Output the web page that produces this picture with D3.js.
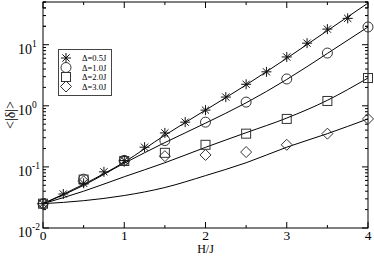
<!DOCTYPE html>
<html>
<head>
<meta charset="utf-8">
<script src="https://cdn.jsdelivr.net/npm/d3@7"></script>
<style>
  body { margin: 0; background: #fff; }
  svg { display: block; font-family: "Liberation Serif", "DejaVu Serif", serif; }
</style>
</head>
<body>
<div id="chart"></div>
<script>
// data
var hStar = [0, 0.25, 0.5, 0.75, 1, 1.25, 1.5, 1.75, 2, 2.25, 2.5, 2.75, 3, 3.25, 3.5, 3.75];
var dStar = [0.025, 0.036, 0.054, 0.083, 0.127, 0.21, 0.36, 0.54, 0.85, 1.39, 2.25, 3.6, 6.3, 10.6, 18, 27];

var hHalf = [0, 0.5, 1, 1.5, 2, 2.5, 3, 3.5, 4];
var dCircle  = [0.025, 0.063, 0.128, 0.27, 0.54, 1.15, 2.75, 7.3, 19.5];
var dSquare  = [0.025, 0.062, 0.125, 0.17, 0.23, 0.35, 0.61, 1.2, 2.85];
var dDiamond = [0.025, 0.058, 0.125, 0.15, 0.157, 0.175, 0.23, 0.35, 0.61];

// theory curves
var hFit = [0, 0.5, 1, 1.5, 2, 2.5, 3, 3.5, 4];
var fit05 = [0.025, 0.052, 0.12, 0.33, 0.85, 2.2, 6.0, 17, 48];
var fit10 = [0.025, 0.05, 0.115, 0.25, 0.52, 1.12, 2.7, 7.2, 19.5];
var fit20 = [0.025, 0.040, 0.069, 0.117, 0.209, 0.363, 0.63, 1.23, 2.85];
var fit30 = [0.025, 0.028, 0.034, 0.046, 0.072, 0.117, 0.21, 0.35, 0.61];

var legendLabels = ["\u0394=0.5J", "\u0394=1.0J", "\u0394=2.0J", "\u0394=3.0J"];
var xTicks = [0, 1, 2, 3, 4];
var yExps = [-2, -1, 0, 1];

var width = 374, height = 256;
var margin = {top: 2, right: 6, bottom: 28, left: 43};
var iw = width - margin.left - margin.right;
var ih = height - margin.top - margin.bottom;

var svg = d3.select('#chart').append('svg')
    .attr('width', width)
    .attr('height', height);

var g = svg.append('g')
    .attr('transform', 'translate(' + margin.left + ',' + margin.top + ')');

var x = d3.scaleLinear().domain([0, 4]).range([0, iw]);
var y = d3.scaleLog().domain([0.01, 50]).range([ih, 0]);

// ticks, xmgrace style: inside on all four sides
var minorX = d3.range(0, 4.01, 0.5).filter(function(v){ return v % 1 !== 0; });
var minorY = [];
yExps.concat([1]).forEach(function(e){
  for (var k = 2; k <= 9; k++) {
    var v = k * Math.pow(10, e);
    if (v <= 50) minorY.push(v);
  }
});

var tk = g.append('g').attr('stroke', '#000').attr('stroke-width', 1);
xTicks.forEach(function(v){
  tk.append('line').attr('x1', x(v)).attr('x2', x(v)).attr('y1', ih).attr('y2', ih - 6);
  tk.append('line').attr('x1', x(v)).attr('x2', x(v)).attr('y1', 0).attr('y2', 6);
});
minorX.forEach(function(v){
  tk.append('line').attr('x1', x(v)).attr('x2', x(v)).attr('y1', ih).attr('y2', ih - 3);
  tk.append('line').attr('x1', x(v)).attr('x2', x(v)).attr('y1', 0).attr('y2', 3);
});
yExps.forEach(function(e){
  var v = Math.pow(10, e);
  tk.append('line').attr('x1', 0).attr('x2', 6).attr('y1', y(v)).attr('y2', y(v));
  tk.append('line').attr('x1', iw).attr('x2', iw - 6).attr('y1', y(v)).attr('y2', y(v));
});
minorY.forEach(function(v){
  tk.append('line').attr('x1', 0).attr('x2', 3).attr('y1', y(v)).attr('y2', y(v));
  tk.append('line').attr('x1', iw).attr('x2', iw - 3).attr('y1', y(v)).attr('y2', y(v));
});

// frame
g.append('rect')
  .attr('width', iw).attr('height', ih)
  .attr('fill', 'none').attr('stroke', '#000').attr('stroke-width', 1);

// tick labels
g.selectAll('.xl').data(xTicks).join('text')
  .attr('x', function(d){ return x(d); })
  .attr('y', ih + 11.5)
  .attr('text-anchor', 'middle')
  .style('font-size', '13.5px')
  .text(function(d){ return d; });

var yl = g.selectAll('.yl').data(yExps).join('text')
  .attr('x', -25)
  .attr('y', function(d){ return y(Math.pow(10, d)) + 9; })
  .style('font-size', '14px');
yl.append('tspan').text('10');
yl.append('tspan').attr('dy', -7).style('font-size', '9.5px').text(function(d){ return d; });

// axis titles
svg.append('text')
  .attr('x', margin.left + iw / 2).attr('y', 253.3)
  .attr('text-anchor', 'middle')
  .style('font-size', '12px')
  .text('H/J');

svg.append('text')
  .attr('transform', 'translate(15,' + (margin.top + ih / 2) + ') rotate(-90)')
  .attr('text-anchor', 'middle')
  .style('font-size', '14px')
  .text('<|\u03b4|>');

// curves
var line = d3.line()
  .x(function(d){ return x(d[0]); })
  .y(function(d){ return y(d[1]); })
  .curve(d3.curveMonotoneX);

[fit05, fit10, fit20, fit30].forEach(function(vals){
  g.append('path')
    .datum(hFit.map(function(h, i){ return [h, vals[i]]; }))
    .attr('d', line)
    .attr('fill', 'none')
    .attr('stroke', '#000')
    .attr('stroke-width', 1);
});

// symbols
var symCol = '#333';
function star(sel, cx, cy) {
  var r = 5, q = r * 0.72;
  sel.append('path')
    .attr('d', 'M' + (cx - r) + ',' + cy + 'H' + (cx + r) +
               'M' + cx + ',' + (cy - r) + 'V' + (cy + r) +
               'M' + (cx - q) + ',' + (cy - q) + 'L' + (cx + q) + ',' + (cy + q) +
               'M' + (cx - q) + ',' + (cy + q) + 'L' + (cx + q) + ',' + (cy - q))
    .attr('stroke', '#111').attr('stroke-width', 1).attr('fill', 'none');
}
function circle(sel, cx, cy) {
  sel.append('circle').attr('cx', cx).attr('cy', cy).attr('r', 5)
    .attr('fill', 'none').attr('stroke', symCol);
}
function square(sel, cx, cy) {
  sel.append('rect').attr('x', cx - 4.5).attr('y', cy - 4.5).attr('width', 9).attr('height', 9)
    .attr('fill', 'none').attr('stroke', symCol);
}
function diamond(sel, cx, cy) {
  var r = 5.5;
  sel.append('path')
    .attr('d', 'M' + cx + ',' + (cy - r) + 'L' + (cx + r) + ',' + cy + 'L' + cx + ',' + (cy + r) + 'L' + (cx - r) + ',' + cy + 'Z')
    .attr('fill', 'none').attr('stroke', symCol);
}

var pts = g.append('g');
hHalf.forEach(function(h, i){ diamond(pts, x(h), y(dDiamond[i])); });
hHalf.forEach(function(h, i){ square(pts, x(h), y(dSquare[i])); });
hHalf.forEach(function(h, i){ circle(pts, x(h), y(dCircle[i])); });
hStar.forEach(function(h, i){ star(pts, x(h), y(dStar[i])); });

// legend
var lg = svg.append('g');
lg.append('rect')
  .attr('x', 58.5).attr('y', 49.5).attr('width', 53).attr('height', 46)
  .attr('fill', '#fff').attr('stroke', '#444').attr('stroke-width', 1);
var drawers = [star, circle, square, diamond];
legendLabels.forEach(function(t, i){
  var cy = 58 + i * 9.5;
  drawers[i](lg, 66, cy);
  lg.append('text')
    .attr('x', 82).attr('y', cy + 3)
    .style('font-size', '8.5px')
    .text(t);
});
</script>
</body>
</html>
